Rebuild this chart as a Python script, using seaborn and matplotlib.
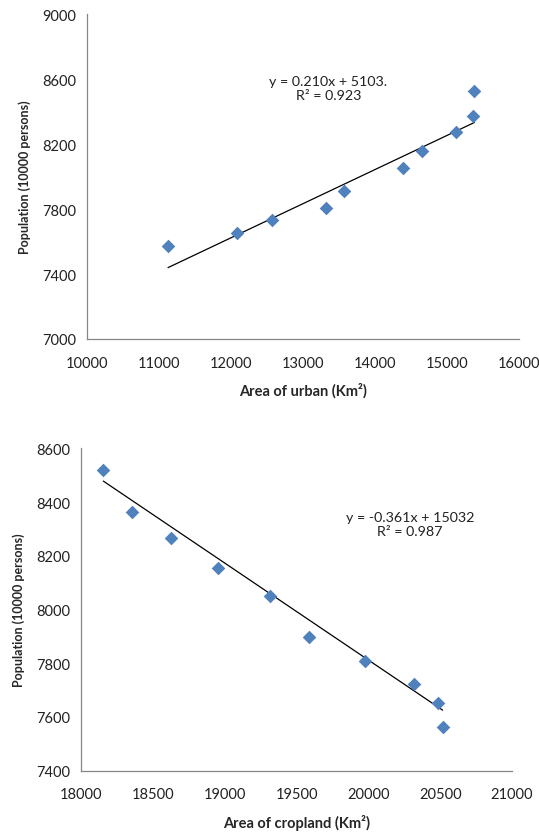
import numpy as np
import pandas as pd
import matplotlib
matplotlib.use("Agg")
import matplotlib.pyplot as plt
import seaborn as sns

# data
urban_area = [11125, 12083, 12565, 13315, 13569, 14389, 14653, 15125, 15365, 15379]
urban_pop = [7572, 7652, 7732, 7808, 7909, 8052, 8159, 8272, 8374, 8524]
crop_area = [18155, 18353, 18624, 18956, 19315, 19587, 19977, 20320, 20482, 20517]
crop_pop = [8521, 8364, 8267, 8153, 8049, 7896, 7807, 7722, 7651, 7564]

# trend line coefficients (slope, intercept) as printed
urban_fit = (0.210, 5103)
crop_fit = (-0.361, 15032)
urban_eq = ["y = 0.210x + 5103.", "R\u00b2 = 0.923"]
crop_eq = ["y = -0.361x + 15032", "R\u00b2 = 0.987"]

sns.set_style("white")
plt.rcParams['font.family'] = ['Lato', 'DejaVu Sans']

blue = "#4F81BD"
grey = "#868686"

fig = plt.figure(figsize=(5.39, 8.37), dpi=100)
ax1 = fig.add_axes([0.1614, 0.5938, 0.963 - 0.1614, 0.982 - 0.5938])
ax2 = fig.add_axes([0.1503, 0.0780, 0.950 - 0.1503, 0.4632 - 0.0780])


def draw(ax, xs, ys, fit, eq, xlim, xstep, ylim, ystep, xlabel, eq_pos):
    df = pd.DataFrame({"x": xs, "y": ys})
    line = pd.DataFrame({"x": [min(xs), max(xs)]})
    line["y"] = fit[0] * line["x"] + fit[1]
    sns.lineplot(data=line, x="x", y="y", ax=ax, color="black", lw=0.9)
    sns.scatterplot(data=df, x="x", y="y", ax=ax, marker="D", s=48,
                    color=blue, edgecolor=blue, linewidth=0, zorder=3)
    ax.set_xlim(*xlim)
    ax.set_ylim(*ylim)
    ax.set_xticks(np.arange(xlim[0], xlim[1] + 1, xstep))
    ax.set_yticks(np.arange(ylim[0], ylim[1] + 1, ystep))
    sns.despine(ax=ax)
    for s in ["left", "bottom"]:
        ax.spines[s].set_color(grey)
        ax.spines[s].set_linewidth(0.9)
    ax.tick_params(axis="both", direction="out", length=5, width=0.9,
                   color=grey, labelsize=10.5, labelcolor="#222222", pad=3)
    ax.tick_params(axis="x", pad=7)
    ax.set_xlabel(xlabel, fontsize=10.5, fontweight="bold", labelpad=9)
    ax.set_ylabel("Population (10000 persons)", fontsize=9,
                  fontweight="bold", labelpad=8)
    ax.text(eq_pos[0], eq_pos[1], eq[0] + "\n" + eq[1], ha="center", va="center",
            fontsize=10.3, color="#222222", linespacing=1.25)


draw(ax1, urban_area, urban_pop, urban_fit, urban_eq, (10000, 16000), 1000,
     (7000, 9000), 400, "Area of urban (Km\u00b2)", (13350, 8545))
draw(ax2, crop_area, crop_pop, crop_fit, crop_eq, (18000, 21000), 500,
     (7400, 8600), 200, "Area of cropland (Km\u00b2)", (20290, 8318))

fig.savefig("out.png", dpi=100)
